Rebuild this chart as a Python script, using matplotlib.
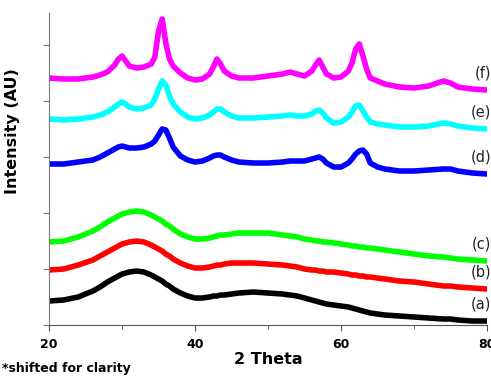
import numpy as np
import matplotlib
matplotlib.use("Agg")
import matplotlib.pyplot as plt
from matplotlib.ticker import MultipleLocator

# 2 theta grid (deg) and intensities (AU, already shifted for clarity)
two_theta = [20, 22, 24, 26, 27, 28, 29, 29.5, 30, 30.5,
             31, 32, 33, 34, 34.5, 35, 35.5, 36, 36.5, 37,
             38, 39, 40, 41, 42, 42.5, 43, 43.5, 44, 45,
             46, 48, 50, 52, 53, 54, 55, 56, 56.5, 57,
             57.5, 58, 59, 60, 61, 61.5, 62, 62.5, 63, 63.5,
             64, 65, 66, 68, 70, 72, 74, 75, 76, 78,
             80]

int_a = [24, 25, 28, 34, 38, 43, 47, 49, 51, 52,
         53, 54, 53, 50, 48, 46, 44, 41, 39, 36,
         32, 29, 27, 27, 28, 29, 29, 30, 30, 31,
         32, 33, 32, 31, 30, 29, 27, 25, 24, 23,
         22, 21, 20, 19, 18, 17, 16, 15, 14, 13,
         12, 11, 10, 9, 8, 7, 6, 6, 5, 4,
         4]
int_b = [55, 56, 60, 65, 69, 73, 77, 79, 81, 82,
         83, 84, 83, 80, 78, 76, 74, 71, 69, 66,
         62, 59, 57, 57, 58, 59, 60, 60, 61, 62,
         62, 62, 61, 60, 59, 58, 56, 55, 55, 54,
         54, 53, 53, 52, 51, 50, 50, 49, 49, 48,
         48, 47, 46, 44, 43, 41, 39, 39, 38, 37,
         36]
int_c = [83, 84, 88, 94, 98, 103, 107, 109, 111, 112,
         113, 114, 113, 110, 108, 106, 104, 101, 99, 96,
         91, 88, 86, 86, 87, 88, 89, 90, 90, 91,
         92, 92, 92, 90, 89, 88, 86, 85, 84, 84,
         83, 83, 82, 81, 80, 79, 79, 78, 78, 77,
         77, 76, 75, 73, 71, 69, 68, 67, 66, 65,
         64]
int_d = [161, 161, 163, 165, 168, 172, 176, 178, 179, 178,
         177, 177, 178, 181, 184, 190, 196, 195, 187, 178,
         169, 165, 163, 164, 167, 169, 170, 170, 168, 165,
         163, 162, 162, 163, 164, 164, 164, 166, 167, 168,
         166, 162, 158, 158, 162, 166, 171, 174, 175, 171,
         162, 158, 156, 154, 154, 155, 156, 156, 154, 152,
         151]
int_e = [206, 205, 206, 208, 210, 213, 218, 221, 223, 221,
         218, 216, 217, 220, 226, 236, 244, 240, 229, 221,
         213, 208, 206, 207, 210, 213, 216, 216, 213, 209,
         207, 207, 208, 209, 210, 209, 209, 211, 214, 215,
         212, 207, 202, 203, 208, 213, 219, 220, 214, 208,
         203, 201, 200, 198, 198, 199, 202, 201, 199, 197,
         196]
int_f = [247, 246, 246, 248, 250, 253, 260, 266, 269, 264,
         259, 257, 258, 261, 268, 294, 306, 282, 266, 259,
         252, 247, 245, 246, 251, 258, 266, 261, 254, 249,
         247, 247, 249, 251, 253, 251, 249, 254, 260, 265,
         258, 251, 247, 248, 254, 262, 276, 281, 269, 256,
         247, 244, 241, 238, 237, 239, 244, 242, 238, 236,
         235]

series = [int_a, int_b, int_c, int_d, int_e, int_f]
labels = ["(a)", "(b)", "(c)", "(d)", "(e)", "(f)"]
colors = ["black", "#ff0000", "#00ff00", "#0000ff", "#00ffff", "#ff00ff"]

fig = plt.figure(figsize=(4.91, 3.76), dpi=100)
ax = fig.add_axes([0.0998, 0.1356, 0.8922, 0.8298])

for y, lab, c in zip(series, labels, colors):
    ax.plot(two_theta, y, color=c, lw=4, solid_joinstyle="round")
    ax.text(80.6, y[-1] + 17, lab, ha="right", va="center", fontsize=10.5,
            color="#222222", clip_on=False)

ax.set_xlim(20, 80)
ax.set_ylim(0, 312)
ax.xaxis.set_major_locator(MultipleLocator(20))
ax.xaxis.set_minor_locator(MultipleLocator(10))
ax.yaxis.set_major_locator(MultipleLocator(56))
ax.set_yticklabels([])
ax.tick_params(axis="y", length=4, color="#777777")
ax.tick_params(axis="x", which="major", length=4, color="#555555", labelsize=9, pad=5)
ax.tick_params(axis="x", which="minor", length=3, color="#555555")
for t in ax.get_xticklabels():
    t.set_fontweight("bold")

ax.spines["top"].set_visible(False)
ax.spines["right"].set_visible(False)
ax.spines["left"].set_color("#777777")
ax.spines["bottom"].set_color("#555555")

ax.set_xlabel("2 Theta", fontsize=11.5, fontweight="bold")
ax.xaxis.set_label_coords(0.5, -0.085)
ax.set_ylabel("Intensity (AU)", fontsize=11.5, fontweight="bold")
ax.yaxis.set_label_coords(-0.066, 0.62)
fig.text(0.004, 0.01, "*shifted for clarity", fontsize=9, fontweight="bold")

fig.savefig("out.png", dpi=100)
